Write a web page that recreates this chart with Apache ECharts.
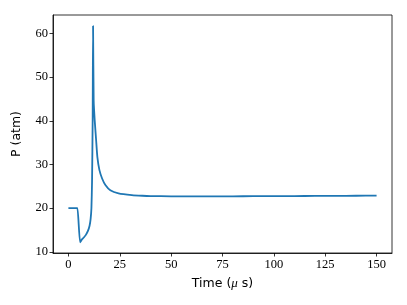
<!DOCTYPE html>
<html>
<head>
<meta charset="utf-8">
<script src="https://cdn.jsdelivr.net/npm/echarts@6/dist/echarts.min.js"></script>
<style>html,body{margin:0;padding:0;background:#fff}#c{width:407px;height:305px}</style>
</head>
<body>
<div id="c"></div>
<script>
var times = [0,1,2,3,4,4.4,5.7,6.5,7.5,8.5,9.5,10.3,10.8,11.2,11.5,11.8,12.0,12.3,12.8,13.5,14.1,15.1,16.4,18,20.4,24.4,30.9,36,40,50,60,70,80,90,100,110,120,130,140,150];
var pressure = [20,20,20,20,20,20,12.2,12.8,13.3,13.9,14.8,16.0,17.5,20,26,40,61.7,44.6,40.1,35.5,31.7,28.7,26.8,25.3,24.1,23.4,23.0,22.85,22.78,22.72,22.7,22.7,22.72,22.74,22.76,22.78,22.8,22.82,22.85,22.88];
var xTicks = [0,25,50,75,100,125,150];
var yTicks = [10,20,30,40,50,60];

var pts = times.map(function(t,i){return [t, pressure[i]];});
var chart = echarts.init(document.getElementById('c'));
var serif = 'Liberation Serif';
chart.setOption({
  animation:false,
  grid:{left:53,right:15,top:15,bottom:52},
  xAxis:{type:'value',min:-7.5,max:157.5,interval:25,
    axisLine:{onZero:false,lineStyle:{color:'#000',width:0.8}},
    axisTick:{show:true,length:3.5,lineStyle:{color:'#000',width:0.8},customValues:xTicks},
    axisLabel:{color:'#000',fontFamily:serif,fontSize:12.5,margin:5,customValues:xTicks},
    splitLine:{show:false},
    name:'{a|Time (}{b|μ}{a| s)}',nameLocation:'middle',nameGap:24,
    nameTextStyle:{rich:{a:{fontFamily:'DejaVu Sans',fontSize:12.5,color:'#000'},b:{fontFamily:serif,fontStyle:'italic',fontSize:13,color:'#000'}}}
  },
  yAxis:{type:'value',min:9.75,max:64.2,
    axisLine:{show:true,onZero:false,lineStyle:{color:'#000',width:0.8}},
    axisTick:{show:true,length:3.5,lineStyle:{color:'#000',width:0.8},customValues:yTicks},
    axisLabel:{color:'#000',fontFamily:serif,fontSize:12.5,margin:5,customValues:yTicks},
    splitLine:{show:false},
    name:'P (atm)',nameLocation:'middle',nameGap:30,
    nameTextStyle:{fontFamily:'DejaVu Sans',fontSize:12.5,color:'#000'}
  },
  graphic:[{type:'rect',shape:{x:53,y:15,width:339,height:238},style:{fill:'none',stroke:'#000',lineWidth:0.8},z:10}],
  series:[{type:'line',data:pts,showSymbol:false,smooth:0.2,lineStyle:{color:'#1f77b4',width:1.8},clip:true}]
});
</script>
</body>
</html>
